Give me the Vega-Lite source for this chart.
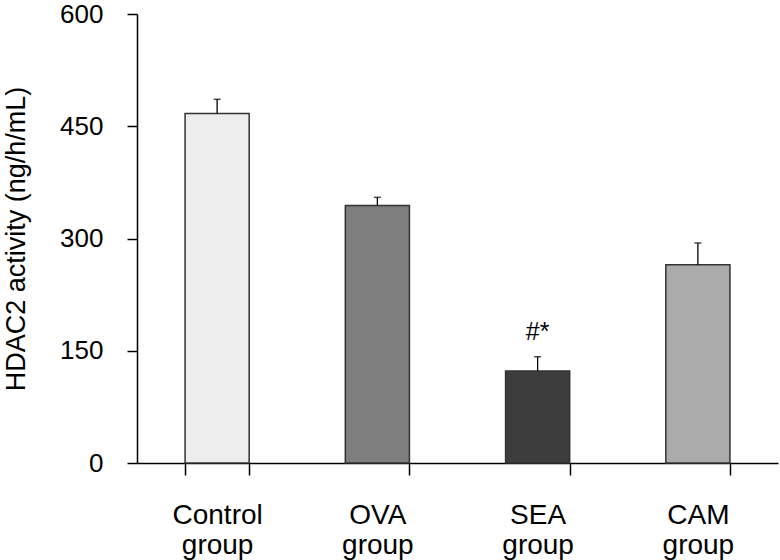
{
  "$schema": "https://vega.github.io/schema/vega-lite/v6.json",
  "width": 641,
  "height": 449,
  "autosize": {"type": "none"},
  "padding": {"left": 137, "top": 14, "right": 2, "bottom": 97},
  "background": "white",
  "config": {
    "view": {"stroke": null},
    "font": "Liberation Sans",
    "axis": {"domainColor": "black", "tickColor": "black", "labelColor": "black", "titleColor": "black", "grid": false, "domainWidth": 1.5, "tickWidth": 1.5}
  },
  "data": {
    "values": [
      {"group": "Control group", "value": 467, "hi": 486, "fill": "Control", "sig": ""},
      {"group": "OVA group", "value": 344, "hi": 355, "fill": "OVA", "sig": ""},
      {"group": "SEA group", "value": 123, "hi": 142, "fill": "SEA", "sig": "#*"},
      {"group": "CAM group", "value": 265, "hi": 294, "fill": "CAM", "sig": ""}
    ]
  },
  "encoding": {
    "x": {
      "field": "group", "type": "nominal", "sort": null,
      "scale": {"paddingInner": 0.6, "paddingOuter": 0.3},
      "axis": {
        "title": null, "labelAngle": 0, "labelFontSize": 28, "labelLineHeight": 30,
        "labelPadding": 26, "tickSize": 12, "tickBand": "extent", "labelBaseline": "top",
        "labelExpr": "split(datum.label, ' ')"
      }
    }
  },
  "layer": [
    {
      "mark": {"type": "bar", "stroke": "#333333", "strokeWidth": 1.5},
      "encoding": {
        "y": {
          "field": "value", "type": "quantitative",
          "scale": {"domain": [0, 600]},
          "axis": {
            "values": [0, 150, 300, 450, 600], "title": "HDAC2 activity (ng/h/mL)",
            "titleFontSize": 27, "titleFontWeight": "normal", "labelFontSize": 26,
            "tickSize": 10, "labelPadding": 24, "titlePadding": 29
          }
        },
        "fill": {
          "field": "fill", "type": "nominal",
          "scale": {"domain": ["Control", "OVA", "SEA", "CAM"], "range": ["#ededed", "#7e7e7e", "#3d3d3d", "#ababab"]},
          "legend": null
        }
      }
    },
    {
      "mark": {"type": "rule", "color": "black", "strokeWidth": 1.3},
      "encoding": {
        "y": {"field": "value", "type": "quantitative"},
        "y2": {"field": "hi"}
      }
    },
    {
      "mark": {"type": "tick", "color": "black", "thickness": 1.5, "size": 7},
      "encoding": {
        "y": {"field": "hi", "type": "quantitative"}
      }
    },
    {
      "transform": [{"filter": "datum.sig != ''"}],
      "mark": {"type": "text", "fontSize": 25, "baseline": "alphabetic", "dy": -17, "color": "black"},
      "encoding": {
        "y": {"field": "hi", "type": "quantitative"},
        "text": {"field": "sig"}
      }
    }
  ]
}
